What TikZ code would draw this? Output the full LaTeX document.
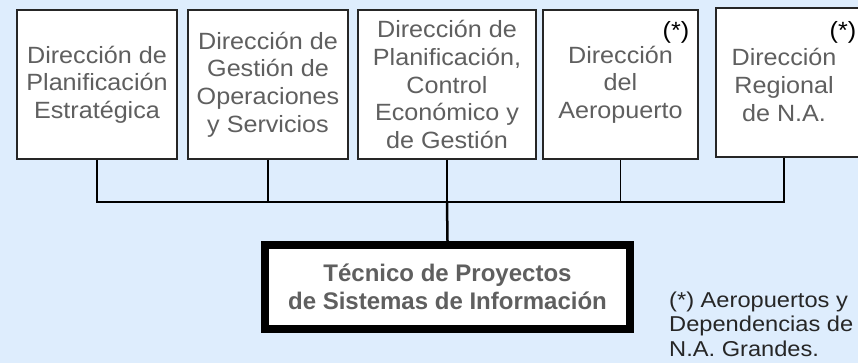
\documentclass[tikz,border=0pt]{standalone}
\usepackage{fontspec}
\setmainfont{Liberation Sans}
\newfontfamily\cajafont[FakeStretch=1.07]{Liberation Sans}
\newfontfamily\notafont[FakeStretch=1.1]{Liberation Sans}
\usepackage{xcolor}
\usepackage{tikz}
\usetikzlibrary{positioning}
\definecolor{fondo}{RGB}{222,237,253}
\definecolor{gristexto}{RGB}{95,95,95}

\begin{document}
\begin{tikzpicture}[x=1pt,y=-1pt,
  caja/.style={draw=black!85,line width=1.5pt,fill=white,align=center,text=gristexto,
    font=\cajafont\fontsize{23.5}{27.6}\selectfont,inner sep=0pt,minimum height=149pt},
  asterisco/.style={font=\cajafont\fontsize{23.5}{27.6}\selectfont,inner sep=0pt,text=black},
  enlace/.style={draw=black,line width=1.5pt},
  puesto/.style={draw=black,line width=8pt,fill=white,align=center,text=gristexto,
    font=\bfseries\fontsize{24}{28}\selectfont,minimum width=365pt,minimum height=84pt},
  nota/.style={font=\notafont\fontsize{21.5}{24.4}\selectfont,inner sep=0pt,align=left,text=black!85}]
  \fill[fondo] (0,0) rectangle (858,363);
  \useasboundingbox (0,0) rectangle (858,363);
  \clip (0,0) rectangle (858,363);
  % direcciones
  \node[caja,minimum width=160pt] (dpe) at (97,84.5) {Dirección de\\Planificación\\Estratégica};
  \node[caja,minimum width=160pt] (dgo) at (268,84.5) {Dirección de\\Gestión de\\Operaciones\\y Servicios};
  \node[caja,minimum width=178pt] (dpc) at (447,84.5) {Dirección de\\Planificación,\\Control\\Económico y\\de Gestión};
  \node[caja,minimum width=155pt] (dae) at (620.5,84.5) {Dirección\\del\\Aeropuerto};
  \node[caja,minimum width=164pt] (drn) at (798,82.5) {};
  \node[caja,draw=none,fill=none,minimum height=0pt] (drntxt) at (784,85) {Dirección\\Regional\\de N.A.};
  \node[asterisco] (ast1) at (676,32) {(*)};
  \node[asterisco] (ast2) at (843,32) {(*)};
  % puesto
  \node[puesto] (tec) at (447.5,287) {Técnico de Proyectos\\de Sistemas de Información};
  \node[nota,anchor=north west] (nota) at (669,291.5) {(*) Aeropuertos y\\Dependencias de\\N.A. Grandes.};
  % conectores
  \coordinate (barra) at (447,202);
  \draw[enlace] (dpe.south) -- (dpe.south |- barra) -- (drntxt |- barra) -- (drntxt |- drn.south);
  \draw[enlace] (dgo.south) -- (dgo.south |- barra);
  \draw[enlace] (dpc.south) -- (barra);
  \draw[enlace] (dae.south) -- (dae.south |- barra);
  \draw[enlace,line width=2.5pt] (barra) -- (tec.north);
\end{tikzpicture}
\end{document}
